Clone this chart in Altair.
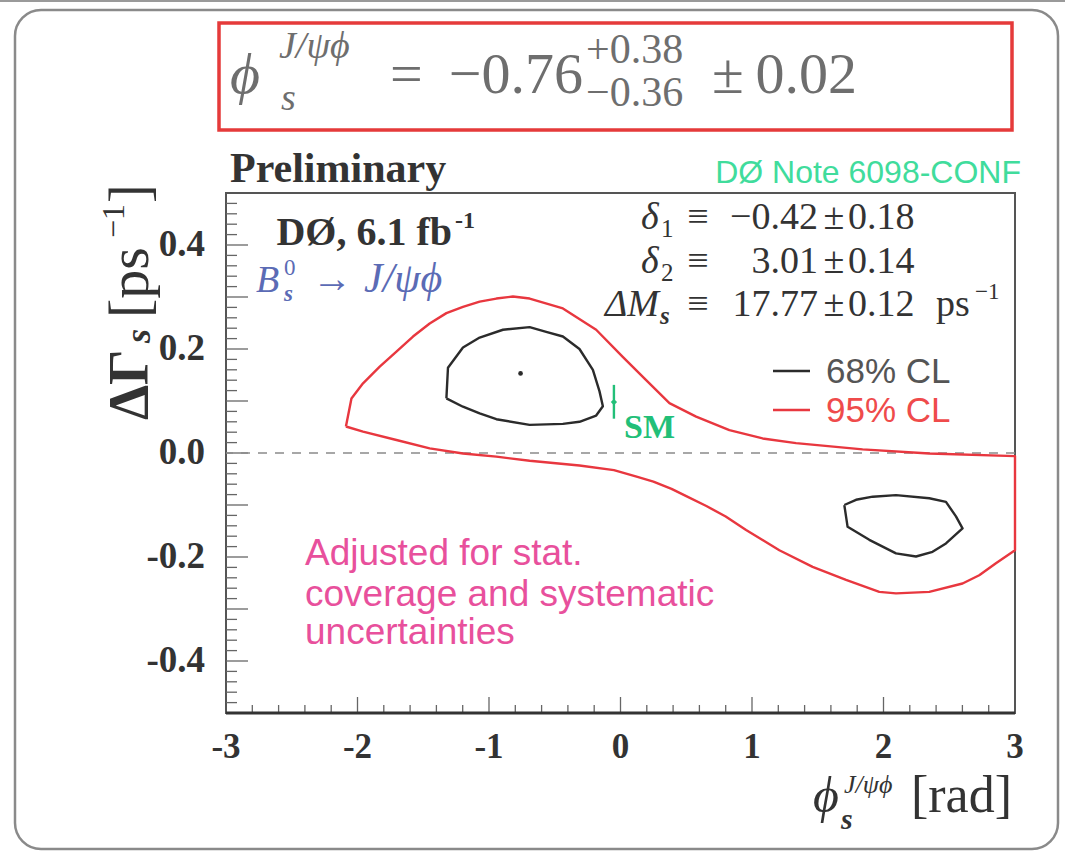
import altair as alt
import pandas as pd

# ---------------------------------------------------------------- data
# 95% CL contour (phi_s [rad], Delta Gamma_s [ps^-1]), closed path
cl95_phi = [-2.088, -2.046, -1.958, -1.831, -1.704, -1.578, -1.451, -1.324, -1.198,
            -1.071, -0.944, -0.818, -0.691, -0.438, -0.185, 0.017, 0.195, 0.372,
            0.575, 0.828, 1.081, 1.335, 1.841, 2.348, 3.0, 3.0, 2.855, 2.728,
            2.601, 2.348, 2.095, 1.968, 1.715, 1.461, 1.208, 0.955, 0.800, 0.653,
            0.500, 0.388, 0.250, 0.129, -0.050, -0.312, -0.691, -0.944, -1.198,
            -1.451, -1.704, -1.958, -2.088]
cl95_dg = [0.051, 0.105, 0.134, 0.166, 0.195, 0.224, 0.249, 0.269, 0.281,
           0.291, 0.297, 0.301, 0.297, 0.278, 0.237, 0.185, 0.140, 0.096,
           0.070, 0.044, 0.028, 0.019, 0.007, -0.001, -0.006, -0.187, -0.212, -0.235,
           -0.251, -0.267, -0.270, -0.267, -0.244, -0.219, -0.187, -0.148, -0.122, -0.102,
           -0.083, -0.069, -0.055, -0.046, -0.033, -0.024, -0.015, -0.007, -0.001,
           0.009, 0.025, 0.041, 0.051]

# 68% CL contour, upper island
cl68a_phi = [-1.324, -1.312, -1.198, -1.071, -0.894, -0.691, -0.565, -0.438, -0.312,
             -0.210, -0.160, -0.134, -0.185, -0.312, -0.438, -0.691, -0.944, -1.071,
             -1.198, -1.324]
cl68a_dg = [0.105, 0.164, 0.203, 0.222, 0.237, 0.242, 0.233, 0.224, 0.200,
            0.160, 0.119, 0.090, 0.072, 0.060, 0.056, 0.054, 0.065, 0.076,
            0.089, 0.105]

# 68% CL contour, lower island
cl68b_phi = [1.702, 1.727, 1.892, 2.095, 2.247, 2.373, 2.475, 2.601, 2.551, 2.475,
             2.348, 2.095, 1.918, 1.791, 1.702]
cl68b_dg = [-0.100, -0.142, -0.167, -0.193, -0.199, -0.190, -0.174, -0.145, -0.122, -0.094,
            -0.087, -0.081, -0.084, -0.090, -0.100]

best_phi, best_dg = [-0.76], [0.153]
sm_phi, sm_dg, sm_lo, sm_hi = [-0.05], [0.098], [0.066], [0.131]

x_tick_vals = [-3, -2, -1, 0, 1, 2, 3]
x_tick_text = ["-3", "-2", "-1", "0", "1", "2", "3"]
y_tick_vals = [-0.4, -0.2, 0.0, 0.2, 0.4]
y_tick_text = ["-0.4", "-0.2", "0.0", "0.2", "0.4"]

# ---------------------------------------------------------------- layout
W, H = 789, 520          # plot area
PAD_L, PAD_T = 226, 193  # plot origin on the page
SERIF = "Liberation Serif, Times New Roman, DejaVu Serif, serif"
SANS = "Liberation Sans, Arial, DejaVu Sans, sans-serif"

XS = alt.Scale(domain=[-3, 3], nice=False, zero=False)
YS = alt.Scale(domain=[-0.5, 0.5], nice=False, zero=False)

RED = "#e8373f"
BLACK = "#2b2b2b"
DARK = "#333333"


def contour(phis, dgs, color):
    df = pd.DataFrame({"phi": phis, "dg": dgs, "i": range(len(phis))})
    return alt.Chart(df).mark_line(
        color=color, strokeWidth=2.4, strokeJoin="round"
    ).encode(
        x=alt.X("phi:Q", scale=XS, axis=None),
        y=alt.Y("dg:Q", scale=YS, axis=None),
        order="i:Q",
    )


def label(text, x, y, size, color=DARK, font=SERIF, weight="normal",
          style="normal", align="left", baseline="alphabetic", angle=0):
    """Text placed by page pixel position (x, y)."""
    return alt.Chart(pd.DataFrame({"t": [text]})).mark_text(
        font=font, fontSize=size, fontWeight=weight, fontStyle=style,
        color=color, align=align, baseline=baseline, angle=angle,
    ).encode(x=alt.value(x - PAD_L), y=alt.value(y - PAD_T), text="t:N")


def box(x1, y1, x2, y2, color, width, radius=0):
    return alt.Chart(pd.DataFrame({"k": [0]})).mark_rect(
        fill=None, stroke=color, strokeWidth=width, cornerRadius=radius
    ).encode(x=alt.value(x1 - PAD_L), x2=alt.value(x2 - PAD_L),
             y=alt.value(y1 - PAD_T), y2=alt.value(y2 - PAD_T))


def hline(x1, x2, y, color, width):
    return alt.Chart(pd.DataFrame({"k": [0]})).mark_rule(
        color=color, strokeWidth=width
    ).encode(x=alt.value(x1 - PAD_L), x2=alt.value(x2 - PAD_L), y=alt.value(y - PAD_T))


# ---------------------------------------------------------------- axes
x_tick_labels = alt.Chart(pd.DataFrame({"v": x_tick_vals, "t": x_tick_text})).mark_text(
    font=SERIF, fontSize=35, fontWeight="bold", color=DARK, align="center", baseline="alphabetic"
).encode(x=alt.X("v:Q", scale=XS, axis=None), y=alt.value(H + 45), text="t:N")

y_tick_labels = alt.Chart(pd.DataFrame({"v": y_tick_vals, "t": y_tick_text})).mark_text(
    font=SERIF, fontSize=37, fontWeight="bold", color=DARK, align="right", baseline="middle"
).encode(y=alt.Y("v:Q", scale=YS, axis=None), x=alt.value(-21), text="t:N")

# inward tick marks
x_minor = [round(-3 + 0.2 * k, 2) for k in range(31) if k % 5 != 0]
x_major = [-2, -1, 0, 1, 2]
y_minor = [round(-0.5 + 0.02 * k, 2) for k in range(51) if k % 5 != 0]
y_major = [-0.4, -0.3, -0.2, -0.1, 0.0, 0.1, 0.2, 0.3, 0.4]


def xticks(vals, length):
    return alt.Chart(pd.DataFrame({"v": vals})).mark_rule(color="#666666", strokeWidth=1.3).encode(
        x=alt.X("v:Q", scale=XS, axis=None), y=alt.value(H), y2=alt.value(H - length))


def yticks(vals, length):
    return alt.Chart(pd.DataFrame({"v": vals})).mark_rule(color="#666666", strokeWidth=1.3).encode(
        y=alt.Y("v:Q", scale=YS, axis=None), x=alt.value(0), x2=alt.value(length))


zero_line = alt.Chart(pd.DataFrame({"v": [0.0]})).mark_rule(
    color="#8a8a8a", strokeWidth=1.3, strokeDash=[9, 8]
).encode(y=alt.Y("v:Q", scale=YS, axis=None))

bottom_line = alt.Chart(pd.DataFrame({"v": [-0.5]})).mark_rule(
    color=DARK, strokeWidth=3
).encode(y=alt.Y("v:Q", scale=YS, axis=None))

# ---------------------------------------------------------------- marks
best = alt.Chart(pd.DataFrame({"phi": best_phi, "dg": best_dg})).mark_point(
    filled=True, color=BLACK, size=22, opacity=1
).encode(x=alt.X("phi:Q", scale=XS, axis=None), y=alt.Y("dg:Q", scale=YS, axis=None))

sm_df = pd.DataFrame({"phi": sm_phi, "dg": sm_dg, "lo": sm_lo, "hi": sm_hi})
sm_bar = alt.Chart(sm_df).mark_rule(color="#22bf78", strokeWidth=2.4).encode(
    x=alt.X("phi:Q", scale=XS, axis=None),
    y=alt.Y("lo:Q", scale=YS, axis=None), y2="hi:Q")
sm_pt = alt.Chart(sm_df).mark_point(
    filled=True, shape="diamond", color="#22bf78", size=40, opacity=1
).encode(x=alt.X("phi:Q", scale=XS, axis=None), y=alt.Y("dg:Q", scale=YS, axis=None))

# ---------------------------------------------------------------- text
GREY = "#6e6e6e"
BLUE = "#5b6bb5"
PINK = "#e8509c"
texts = [
    # headline result
    label("\u03d5", 230, 93, 58, GREY, style="italic"),
    label("J/\u03c8\u03d5", 279, 58, 38, GREY, style="italic"),
    label("s", 281, 110, 38, GREY, style="italic"),
    label("=", 390, 93, 58, GREY),
    label("\u22120.76", 583, 93, 58, GREY, align="right"),
    label("+0.38", 586, 63, 42, GREY),
    label("\u22120.36", 586, 106, 42, GREY),
    label("\u00b1", 712, 93, 58, GREY),
    label("0.02", 857, 93, 58, GREY, align="right"),

    label("Preliminary", 230, 182, 42, DARK, weight="bold"),
    label("D\u00d8 Note 6098-CONF", 1021, 183, 32, "#40dc9c", font=SANS, align="right"),

    label("D\u00d8, 6.1 fb", 452, 245, 40, DARK, weight="bold", align="right"),
    label("-1", 455, 228, 24, DARK, weight="bold"),

    label("B", 256, 292, 38, BLUE, style="italic"),
    label("0", 284, 275, 23, BLUE),
    label("s", 284, 301, 23, BLUE, style="italic", weight="bold"),
    label("\u2192", 312, 292, 40, BLUE),
    label("J/\u03c8\u03d5", 364, 292, 42, BLUE, style="italic"),

    label("\u03b4", 641, 229, 38, DARK, style="italic"),
    label("1", 661, 237, 25, DARK),
    label("\u2261", 698, 229, 38, DARK, align="center"),
    label("\u22120.42", 818, 229, 38, DARK, align="right"),
    label("\u00b1", 834, 229, 38, DARK, align="center"),
    label("0.18", 848, 229, 38, DARK),

    label("\u03b4", 641, 273, 38, DARK, style="italic"),
    label("2", 661, 281, 25, DARK),
    label("\u2261", 698, 273, 38, DARK, align="center"),
    label("3.01", 818, 273, 38, DARK, align="right"),
    label("\u00b1", 834, 273, 38, DARK, align="center"),
    label("0.14", 848, 273, 38, DARK),

    label("\u0394M", 659, 316, 38, DARK, style="italic", align="right"),
    label("s", 660, 324, 25, DARK, style="italic", weight="bold"),
    label("\u2261", 698, 316, 38, DARK, align="center"),
    label("17.77", 818, 316, 38, DARK, align="right"),
    label("\u00b1", 834, 316, 38, DARK, align="center"),
    label("0.12", 848, 316, 38, DARK),
    label("ps", 936, 316, 38, DARK),
    label("\u22121", 975, 299, 23, DARK),

    label("68% CL", 826, 383, 35, "#555555", font=SANS),
    label("95% CL", 826, 422, 35, "#ef4b4b", font=SANS),

    label("SM", 624, 438, 34, "#22bf78", weight="bold"),

    label("Adjusted for stat.", 305, 565, 37, PINK, font=SANS),
    label("coverage and systematic", 305, 606, 37, PINK, font=SANS),
    label("uncertainties", 305, 644, 37, PINK, font=SANS),

    # y-axis title (rotated)
    label("\u0394\u0393", 148, 420, 56, DARK, weight="bold", angle=270),
    label("s", 150, 343, 36, DARK, weight="bold", style="italic", angle=270),
    label("[ps", 148, 318, 58, DARK, angle=270),
    label("\u22121", 124, 238, 32, DARK, angle=270),
    label("]", 148, 203, 56, DARK, angle=270),

    # x-axis title
    label("\u03d5", 813, 812, 50, DARK, style="italic"),
    label("J/\u03c8\u03d5", 844, 793, 26, DARK, style="italic"),
    label("s", 841, 829, 30, DARK, style="italic", weight="bold"),
    label("[rad]", 1012, 812, 52, DARK, align="right"),
]

decor = [
    hline(0, 1065, 1, "#9a9a9a", 2),
    box(15, 10, 1058, 849, "#8a8a8a", 2.5, radius=26),
    box(219, 23, 1012, 130, "#e53a3a", 3.5),
    hline(773, 810, 371, BLACK, 2.4),
    hline(773, 810, 410, RED, 2.4),
]

chart = alt.layer(
    *decor,
    xticks(x_minor, 8), xticks(x_major, 16),
    yticks(y_minor, 11), yticks(y_major, 22),
    x_tick_labels, y_tick_labels,
    zero_line,
    contour(cl95_phi, cl95_dg, RED),
    contour(cl68a_phi, cl68a_dg, BLACK),
    contour(cl68b_phi, cl68b_dg, BLACK),
    best, sm_bar, sm_pt,
    bottom_line,
    *texts,
).properties(
    width=W, height=H,
    autosize=alt.AutoSizeParams(type="none"),
    padding={"left": PAD_L, "top": PAD_T, "right": 1065 - PAD_L - W, "bottom": 853 - PAD_T - H},
).configure_view(
    stroke="#555555", strokeWidth=2
)

chart.save("out.html", embed_options={"renderer": "svg", "actions": False})
